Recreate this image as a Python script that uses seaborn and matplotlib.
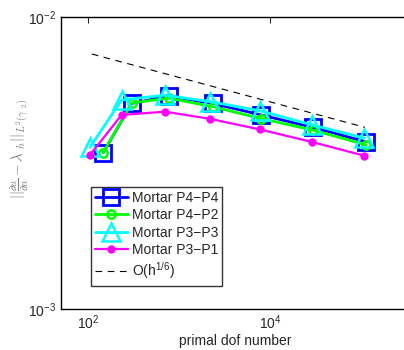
import numpy as np
import pandas as pd
import seaborn as sns
import matplotlib
matplotlib.use("Agg")
import matplotlib.pyplot as plt
from matplotlib.ticker import LogLocator, NullFormatter, NullLocator, FixedLocator

# primal dof numbers and errors
dof_p4 = [147, 302, 776, 2340, 7950, 29500, 113000]
dof_p3 = [105, 234, 701, 2190, 7770, 29200, 109000]

err_p4p4 = [0.00343, 0.00506, 0.00536, 0.00506, 0.00462, 0.00419, 0.00374]
err_p4p2 = [0.00343, 0.00508, 0.00527, 0.00493, 0.00449, 0.00410, 0.00365]
err_p3p3 = [0.00358, 0.00520, 0.00540, 0.00513, 0.00477, 0.00427, 0.00385]
err_p3p1 = [0.00337, 0.00462, 0.00474, 0.00448, 0.00412, 0.00373, 0.00335]

ref_dof = [110, 110700]
ref_err = [0.00747, 0.00419]

sns.set_style("white")
plt.rcParams['font.family'] = ['Liberation Sans', 'DejaVu Sans']
plt.rcParams['mathtext.fontset'] = 'custom'
plt.rcParams['mathtext.rm'] = 'Liberation Sans'
plt.rcParams['mathtext.it'] = 'Liberation Sans:italic'

fig = plt.figure(figsize=(4.04, 3.5), dpi=100)
ax = fig.add_axes([61 / 404, 41 / 350, 349 / 404, 292 / 350])

series = [
    ("Mortar P4\u2212P4", dof_p4, err_p4p4, "#0000FF", "s", 11, "none", 2.0, 2.0),
    ("Mortar P4\u2212P2", dof_p4, err_p4p2, "#00FF00", "o", 6, "none", 1.8, 2.0),
    ("Mortar P3\u2212P3", dof_p3, err_p3p3, "#00FFFF", "^", 13, "none", 1.8, 2.0),
    ("Mortar P3\u2212P1", dof_p3, err_p3p1, "#FF00FF", "o", 5, "#FF00FF", 1.0, 1.6),
]

for name, x, y, col, mk, ms, fc, ew, lw in series:
    df = pd.DataFrame({"dof": x, "err": y})
    sns.lineplot(data=df, x="dof", y="err", ax=ax, label=name, color=col,
                 linestyle="-", linewidth=lw, marker=mk, markersize=ms,
                 markerfacecolor=fc, markeredgecolor=col, markeredgewidth=ew)

sns.lineplot(x=ref_dof, y=ref_err, ax=ax, color="black", linewidth=0.8,
             linestyle=(0, (6, 5)), label="O(h$^{1/6}$)")

ax.set_xscale("log")
ax.set_yscale("log")
ax.set_xlim(10 ** 1.703, 10 ** 5.54)
ax.set_ylim(1e-3, 1e-2)
ax.xaxis.set_major_locator(FixedLocator([1e2, 1e4]))
ax.xaxis.set_minor_locator(NullLocator())
ax.yaxis.set_major_locator(FixedLocator([1e-3, 1e-2]))
ax.yaxis.set_minor_locator(LogLocator(base=10, subs=np.arange(2, 10)))
ax.yaxis.set_minor_formatter(NullFormatter())
ax.tick_params(which="both", direction="in", top=True, right=True, labelsize=10)
ax.tick_params(which="major", length=4)
ax.tick_params(which="minor", length=2)
for s in ax.spines.values():
    s.set_color("black")
    s.set_linewidth(1)

ax.set_xlabel("primal dof number", fontsize=10, labelpad=1)
ax.set_ylabel(r"$||\frac{\partial u}{\partial n} - \lambda\ _h||_{L^2(\gamma\ _2)}$",
              fontsize=10.5, color="#808080", math_fontfamily="cm")
ax.yaxis.set_label_coords(-0.085, 0.55)

leg = ax.legend(loc="lower left", bbox_to_anchor=(0.085, 0.08), fontsize=10,
                frameon=True, fancybox=False, handlelength=2.4, handletextpad=0.25,
                borderpad=0.3, labelspacing=0.25, borderaxespad=0)
leg.get_frame().set_edgecolor("black")
leg.get_frame().set_linewidth(1)

fig.savefig("out.png", dpi=100)
